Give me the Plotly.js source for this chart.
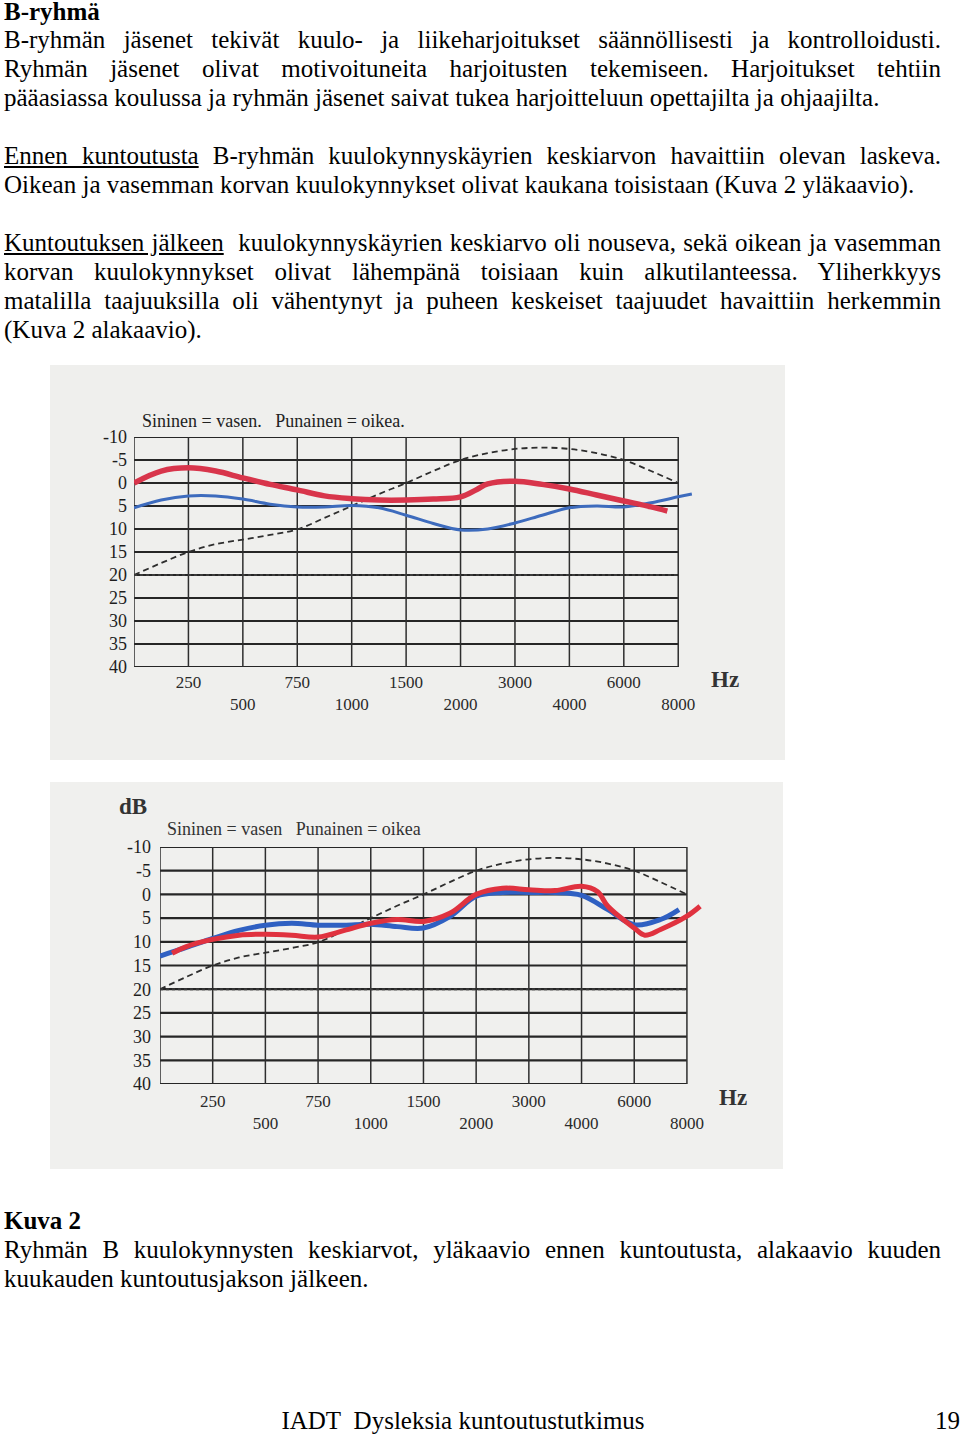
<!DOCTYPE html>
<html>
<head>
<meta charset="utf-8">
<script src="https://cdn.plot.ly/plotly-3.0.1.min.js"></script>
<style>
  html, body { margin:0; padding:0; background:#ffffff; }
  body { width:960px; height:1436px; position:relative; overflow:hidden; font-family:'Liberation Serif','Times New Roman',serif; color:#000; }
  .ln { position:absolute; left:4px; width:937px; font-size:25px; line-height:29px; white-space:normal; }
  .j { text-align:justify; text-align-last:justify; }
  #top { position:absolute; left:50px; top:365px; width:735px; height:395px; }
  #bot { position:absolute; left:50px; top:782px; width:733px; height:387px; }
</style>
</head>
<body>
<div class="ln" style="top:-3px;"><b>B-ryhmä</b></div>
<div class="ln j" style="top:25px;">B-ryhmän jäsenet tekivät kuulo- ja liikeharjoitukset säännöllisesti ja kontrolloidusti.</div>
<div class="ln j" style="top:54px;">Ryhmän jäsenet olivat motivoituneita harjoitusten tekemiseen. Harjoitukset tehtiin</div>
<div class="ln" style="top:83px;">pääasiassa koulussa ja ryhmän jäsenet saivat tukea harjoitteluun opettajilta ja ohjaajilta.</div>
<div class="ln j" style="top:141px;"><u>Ennen kuntoutusta</u> B-ryhmän kuulokynnyskäyrien keskiarvon havaittiin olevan laskeva.</div>
<div class="ln" style="top:170px;">Oikean ja vasemman korvan kuulokynnykset olivat kaukana toisistaan (Kuva 2 yläkaavio).</div>
<div class="ln j" style="top:228px;"><u>Kuntoutuksen jälkeen</u>&nbsp; kuulokynnyskäyrien keskiarvo oli nouseva, sekä oikean ja vasemman</div>
<div class="ln j" style="top:257px;">korvan kuulokynnykset olivat lähempänä toisiaan kuin alkutilanteessa. Yliherkkyys</div>
<div class="ln j" style="top:286px;">matalilla taajuuksilla oli vähentynyt ja puheen keskeiset taajuudet havaittiin herkemmin</div>
<div class="ln" style="top:315px;">(Kuva 2 alakaavio).</div>

<div id="top"></div>
<div id="bot"></div>

<div class="ln" style="top:1206px;"><b>Kuva 2</b></div>
<div class="ln j" style="top:1235px;">Ryhmän B kuulokynnysten keskiarvot, yläkaavio ennen kuntoutusta, alakaavio kuuden</div>
<div class="ln" style="top:1264px;">kuukauden kuntoutusjakson jälkeen.</div>
<div class="ln" style="top:1406px; left:0; width:926px; text-align:center;">IADT&nbsp; Dysleksia kuntoutustutkimus</div>
<div class="ln" style="top:1406px; left:900px; width:60px; text-align:right;">19</div>

<script>
// ---- data ----
const freqCategories = ["125","250","500","750","1000","1500","2000","3000","4000","6000","8000"];
const tickPositions = [1,2,3,4,5,6,7,8,9,10];
const tickLabels = ["250","<br>500","750","<br>1000","1500","<br>2000","3000","<br>4000","6000","<br>8000"];
const dbTicks = [-10,-5,0,5,10,15,20,25,30,35,40];

// threshold reference curve (dashed), same on both charts
const refX = [0,0.5,1,1.5,2,2.5,3,3.5,4,4.5,5,5.5,6,6.5,7,7.5,8,8.5,9,9.5,10];
const refY = [20,17.4,15,13.3,12.3,11.3,10.1,7.6,5,2.4,0,-2.6,-5,-6.5,-7.4,-7.7,-7.4,-6.5,-5,-2.6,0];
const limitX = [0,10];
const limitY = [20,20];

// before rehabilitation (top)
const beforeRightX = [0,0.5,1,1.5,2,2.5,3,3.5,4,4.5,5,5.5,6,6.3,6.5,7,7.5,8,8.5,9,9.5,9.8];
const beforeRightY = [0,-2.6,-3.3,-2.6,-1.1,0.3,1.5,2.8,3.4,3.7,3.7,3.5,3.0,1.4,0.2,-0.4,0.3,1.3,2.6,3.9,5.2,6.1];
const beforeLeftX = [0,0.5,1,1.5,2,2.5,3,3.5,4,4.5,5,5.5,6,6.5,7,7.5,8,8.5,9,9.5,10,10.25];
const beforeLeftY = [5.4,3.7,2.8,2.8,3.5,4.6,5.2,5.2,4.9,5.4,7.0,8.8,10.2,10,8.7,7,5.4,5,5.2,4.3,3,2.4];

// after rehabilitation (bottom)
const afterRightX = [0.23,0.5,1,1.5,2,2.5,3,3.5,4,4.5,5,5.5,6,6.5,7,7.5,8,8.3,8.5,9,9.2,9.5,10,10.25];
const afterRightY = [12.4,11,9.5,8.6,8.4,8.6,9,7.6,6.1,5.3,5.7,4,0,-1.3,-1,-0.8,-1.7,-0.6,2.5,7.1,8.6,7.4,4.6,2.5];
const afterLeftX = [0,0.5,1,1.5,2,2.5,3,3.5,4,4.5,5,5.5,6,6.5,7,7.5,8,8.5,9,9.5,9.85];
const afterLeftY = [13,11.2,9.3,7.6,6.5,6.1,6.5,6.5,6.3,6.8,7.1,4.7,0.4,-0.4,-0.4,-0.4,0.2,3.2,6.4,5.3,3.2];

// ---- drawing ----
function gridShapes(){
  const s = [];
  const nCols = freqCategories.length - 1;
  dbTicks.forEach(v => s.push({type:'line', xref:'x', yref:'y', x0:0, x1:nCols, y0:v, y1:v,
    line:{color:'#262626', width:2.2}, layer:'below'}));
  for (let i=0;i<=nCols;i++) s.push({type:'line', xref:'x', yref:'y', x0:i, x1:i, y0:-10, y1:40,
    line:{color:'#2e2e2e', width:1.5}, layer:'below'});
  return s;
}

function makeChart(id, rx, ry, lx, ly, opts){
  const traces = [
    {x:refX, y:refY, mode:'lines', line:{shape:'spline', smoothing:1, color:'#2e2e2e', width:1.8, dash:'6px,4px'}, hoverinfo:'skip'},
    {x:limitX, y:limitY, mode:'lines', line:{color:'#3a3a3a', width:2, dash:'3px,3px'}, hoverinfo:'skip'},
    {x:lx, y:ly, mode:'lines', name:'vasen', line:{shape:'spline', smoothing:1, color:opts.blue, width:opts.blueW}},
    {x:rx, y:ry, mode:'lines', name:'oikea', line:{shape:'spline', smoothing:1, color:opts.red, width:opts.redW}}
  ];
  const layout = {
    width:opts.w, height:opts.h,
    margin:opts.margin,
    paper_bgcolor:opts.bg, plot_bgcolor:opts.bg,
    showlegend:false,
    font:{family:'Liberation Serif, serif', color:'#222'},
    xaxis:{range:[0,10.4], showgrid:false, zeroline:false, showline:false, ticks:'',
      tickmode:'array', tickvals:tickPositions, ticktext:tickLabels,
      tickfont:{family:'Liberation Serif, serif', size:17, color:'#2a2a2a'}, ticklabelstandoff:opts.xStand, fixedrange:true},
    yaxis:{range:[40,-10], showgrid:false, zeroline:false, showline:false, ticks:'',
      tickmode:'array', tickvals:dbTicks, ticktext:dbTicks.map(String),
      tickfont:{family:'Liberation Serif, serif', size:18, color:'#1e1e1e'}, ticklabelstandoff:opts.yStand, fixedrange:true},
    shapes:gridShapes(),
    annotations:opts.annotations
  };
  Plotly.newPlot(id, traces, layout, {staticPlot:true, displayModeBar:false});
}

makeChart('top', beforeRightX, beforeRightY, beforeLeftX, beforeLeftY, {
  w:735, h:395, margin:{l:84, r:85, t:72, b:93, pad:0}, bg:'#efefed',
  red:'#d8354b', redW:5.5, blue:'#3d6bbd', blueW:3, xStand:3, yStand:6,
  annotations:[
    {xref:'paper', yref:'paper', x:0.0106, y:1.07, xanchor:'left', yanchor:'middle', showarrow:false,
      text:'Sininen = vasen.   Punainen = oikea.', font:{family:'Liberation Serif, serif', size:18, color:'#222'}},
    {xref:'paper', yref:'paper', x:1.044, y:-0.0565, xanchor:'center', yanchor:'middle', showarrow:false,
      text:'<b>Hz</b>', font:{family:'Liberation Serif, serif', size:23, color:'#333'}}
  ]
});

makeChart('bot', afterRightX, afterRightY, afterLeftX, afterLeftY, {
  w:733, h:387, margin:{l:110, r:75, t:65, b:85, pad:0}, bg:'#f0f0ee',
  red:'#e0323f', redW:5, blue:'#2f60c2', blueW:5, xStand:5, yStand:8,
  annotations:[
    {xref:'paper', yref:'paper', x:0.009, y:1.076, xanchor:'left', yanchor:'middle', showarrow:false,
      text:'Sininen = vasen   Punainen = oikea', font:{family:'Liberation Serif, serif', size:18, color:'#333'}},
    {xref:'paper', yref:'paper', x:1.046, y:-0.059, xanchor:'center', yanchor:'middle', showarrow:false,
      text:'<b>Hz</b>', font:{family:'Liberation Serif, serif', size:23, color:'#333'}},
    {xref:'paper', yref:'paper', x:-0.049, y:1.169, xanchor:'center', yanchor:'middle', showarrow:false,
      text:'<b>dB</b>', font:{family:'Liberation Serif, serif', size:23, color:'#333'}}
  ]
});
</script>
</body>
</html>
